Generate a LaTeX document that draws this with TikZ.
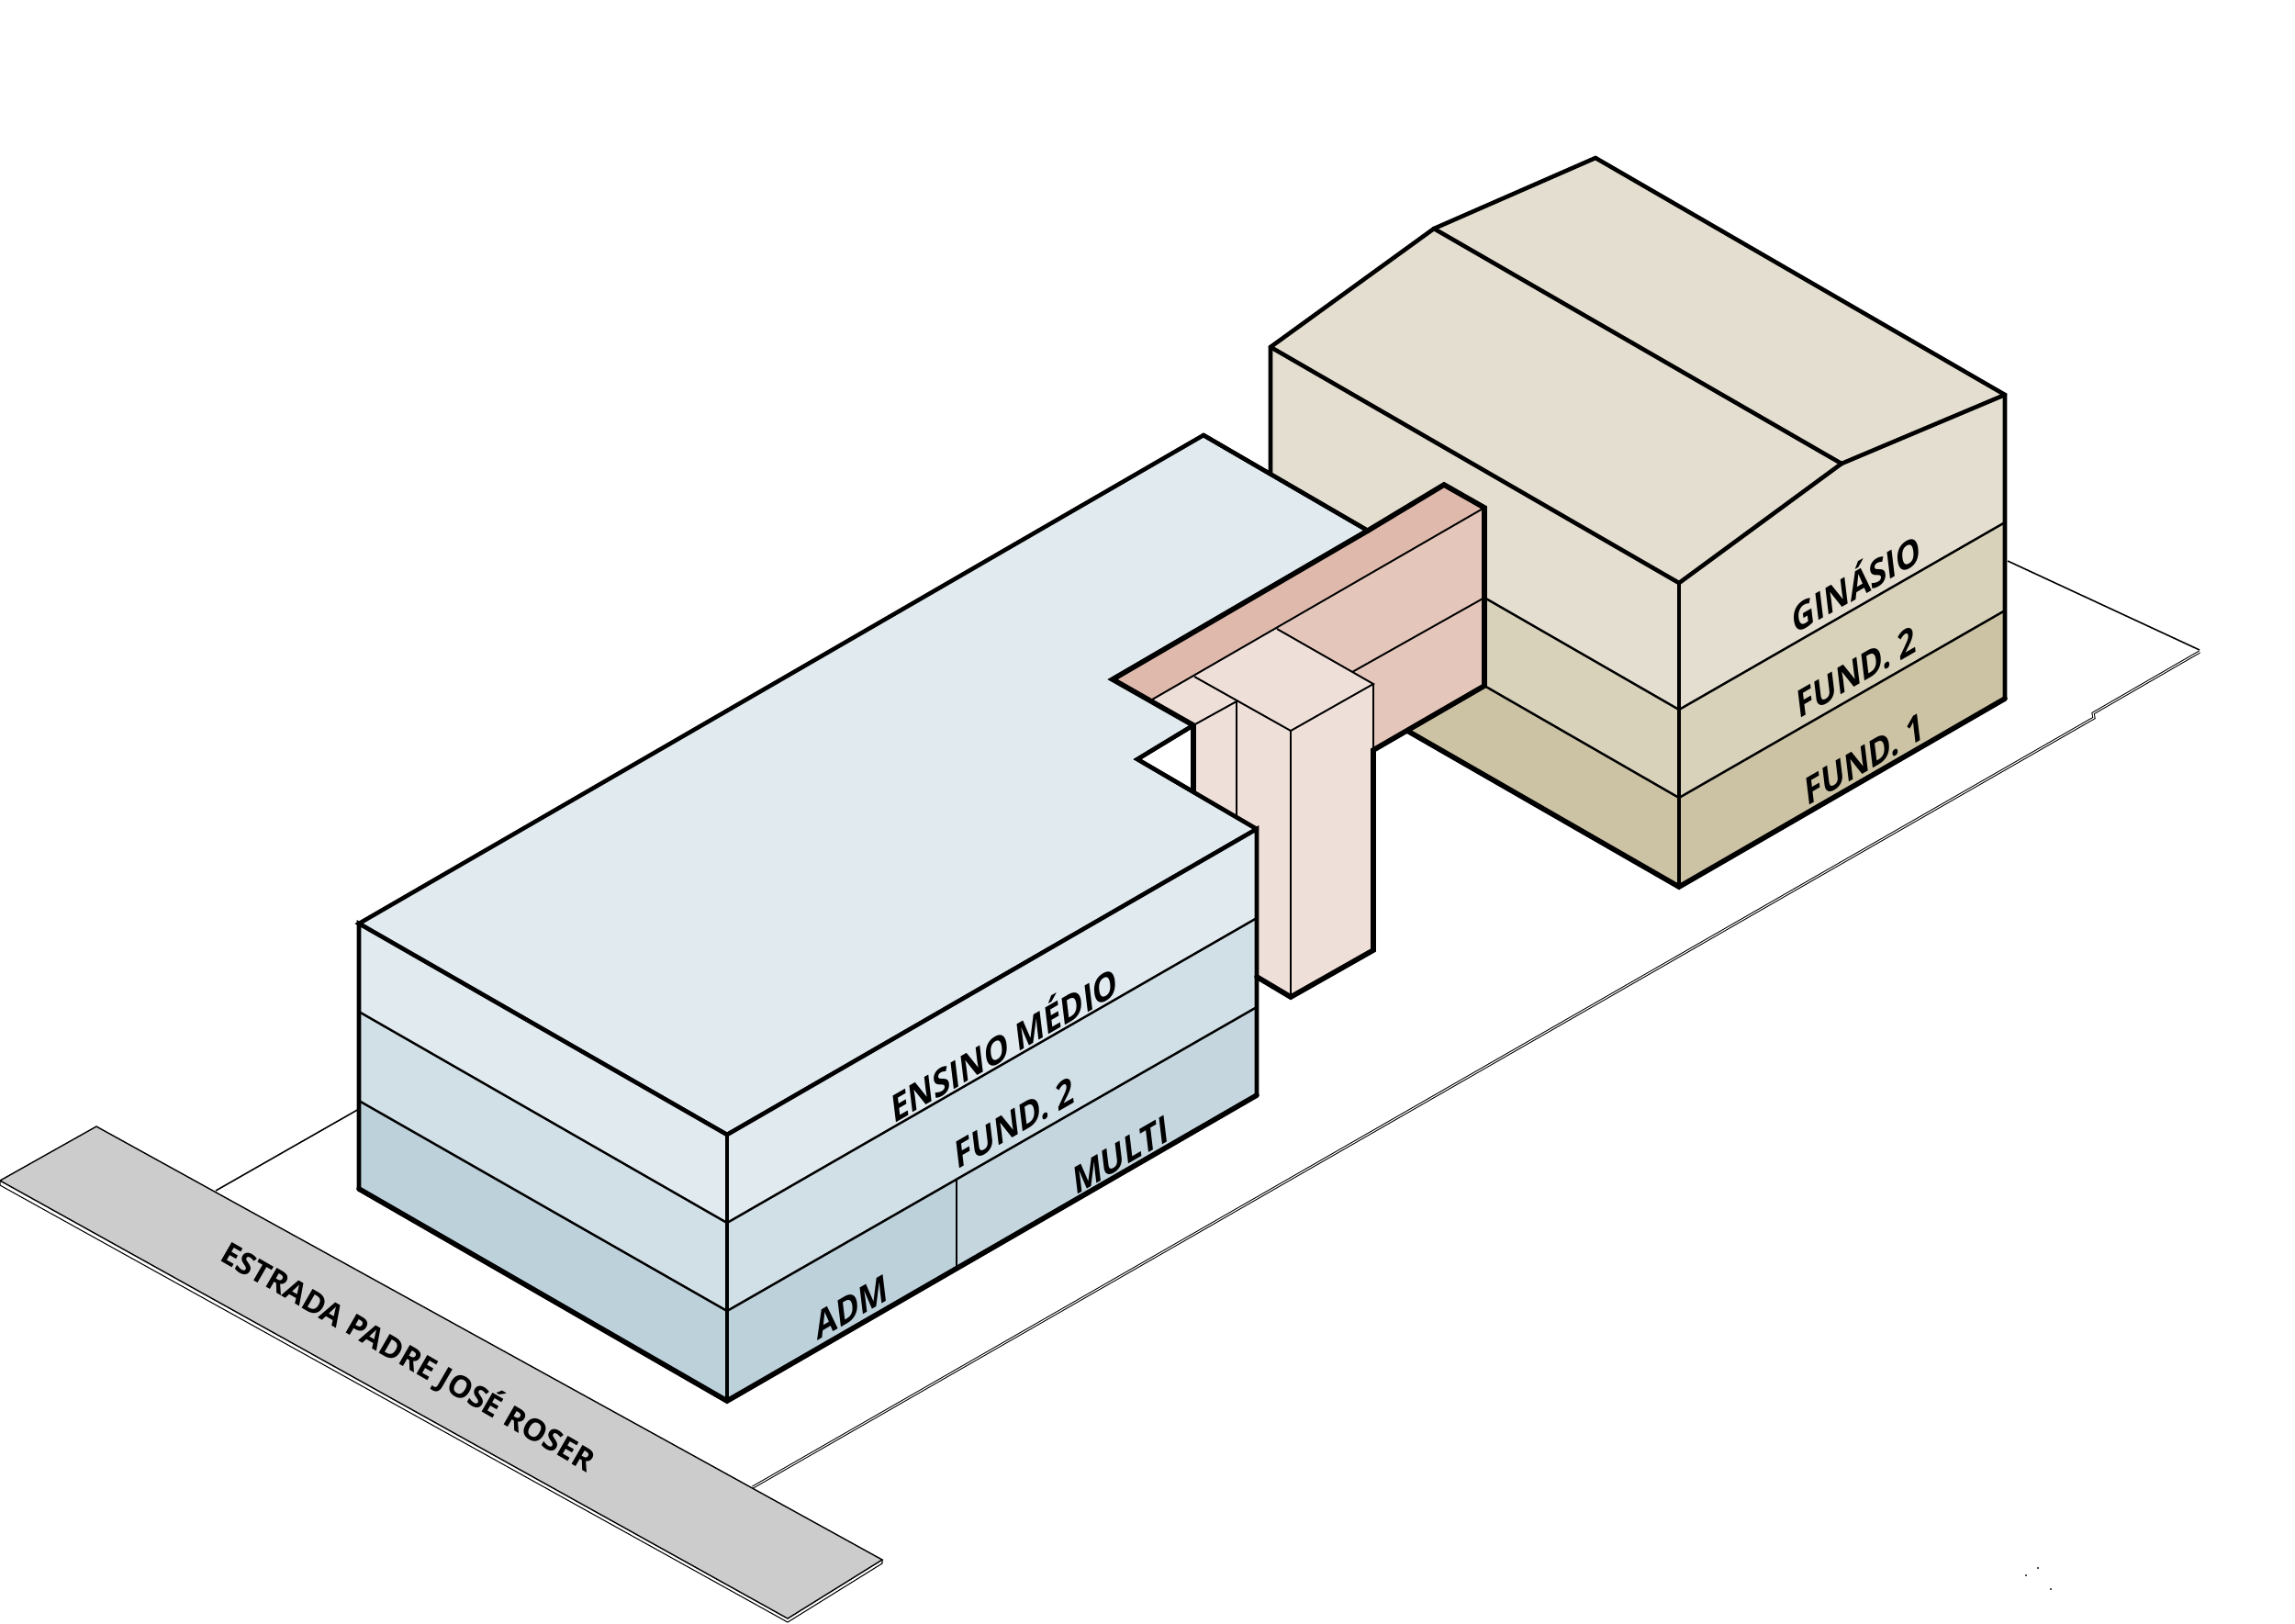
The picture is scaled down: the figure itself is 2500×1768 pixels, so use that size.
\documentclass[tikz,border=0pt]{standalone}
\usepackage{fontspec}
\setmainfont{Open Sans}
\definecolor{btop}{HTML}{E1EAEF}
\definecolor{bmid}{HTML}{D1DFE6}
\definecolor{blow}{HTML}{BDD1DB}
\definecolor{bmul}{HTML}{C5D6DF}
\definecolor{gtop}{HTML}{E3DECF}
\definecolor{gmid}{HTML}{D8D2BB}
\definecolor{glow}{HTML}{CCC3A5}
\definecolor{ppale}{HTML}{EFDFD9}
\definecolor{pmid}{HTML}{E4C6BB}
\definecolor{pdark}{HTML}{DFBAAC}
\definecolor{road}{HTML}{CCCCCC}
\tikzset{
  heavy/.style={draw=black,line width=1.3pt,line join=miter,line cap=round},
  heavier/.style={draw=black,line width=1.6pt,line join=miter,line cap=round},
  fine/.style={draw=black,line width=0.55pt},
  hair/.style={draw=black,line width=0.35pt},
  wall/.style={font=\bfseries\fontsize{11.5}{12}\selectfont,inner sep=0pt,cm={0.81,0.467,-0.12,1,(0,0)},transform shape},
  ground/.style={font=\bfseries\fontsize{9.45}{12}\selectfont,inner sep=0pt,rotate=-30},
}
\begin{document}
\begin{tikzpicture}[x=0.01cm,y=-0.01cm]
\useasboundingbox (0,0) rectangle (2500,1768);
% site
\draw[hair,line width=0.45pt] (235,1297) -- (391,1208);
\draw[hair,line width=0.45pt] (2187,611) -- (2396,708);
\draw[draw=black,line width=0.3pt,double=white,double distance=0.3pt] (820,1620) -- (2281,782) -- (2280,777) -- (2396,710);
% road
\filldraw[fill=white,draw=black,line width=0.3pt] (0,1286) -- (0,1291) -- (858,1767) -- (961,1703) -- (961,1699) -- cycle;
\filldraw[fill=road,draw=black,line width=0.4pt] (105,1227) -- (961,1699) -- (858,1763) -- (0,1286) -- cycle;
% gym
\fill[gtop] (1384,378) -- (1562,249) -- (1738,172) -- (2184,430) -- (2184,569) -- (1829,773) -- (1384,516) -- cycle;
\fill[gmid] (1617,651) -- (1829,773) -- (2184,569) -- (2184,665) -- (1829,869) -- (1617,747) -- cycle;
\fill[glow] (1533,796) -- (1617,747) -- (1829,869) -- (2184,665) -- (2184,761) -- (1829,966) -- cycle;
\draw[fine,line width=0.7pt] (1617,651) -- (1829,773) -- (2184,569);
\draw[fine,line width=0.7pt] (1617,747) -- (1829,869) -- (2184,665);
\draw[heavy] (1384,516) -- (1384,378) -- (1562,249) -- (1738,172) -- (2184,430) -- (2184,761);
\draw[heavier] (2184,761) -- (1829,966) -- (1533,796);
\draw[heavy] (1562,249) -- (2006,505) -- (2184,430);
\draw[heavy] (1384,378) -- (1829,635) -- (2006,505);
\draw[heavy] (1829,635) -- (1829,966);
% blue block
\filldraw[fill=btop,heavy] (391,1006) -- (1311,474) -- (1490,578) -- (1212,740) -- (1300,790) -- (1239,827) -- (1369,903) -- (792,1236) -- cycle;
\fill[btop] (391,1006) -- (792,1236) -- (1369,903) -- (1369,1000) -- (792,1332) -- (391,1102) -- cycle;
\fill[bmid] (391,1102) -- (792,1332) -- (1369,1000) -- (1369,1097) -- (792,1428) -- (391,1199) -- cycle;
\fill[blow] (391,1199) -- (792,1428) -- (1042,1285) -- (1042,1380) -- (792,1526) -- (391,1295) -- cycle;
\fill[bmul] (1042,1285) -- (1369,1097) -- (1369,1193) -- (1042,1380) -- cycle;
\draw[fine,line width=0.7pt] (391,1102) -- (792,1332) -- (1369,1000);
\draw[fine,line width=0.7pt] (391,1199) -- (792,1428) -- (1369,1097);
\draw[fine,line width=0.7pt] (1042,1285) -- (1042,1380);
% pink link
\fill[ppale] (1300,790) -- (1255,762) -- (1391,685) -- (1496,745) -- (1496,1035) -- (1406,1086) -- (1369,1064) -- (1369,903) -- (1300,862) -- cycle;
\fill[pmid] (1617,553) -- (1617,747) -- (1496,817) -- (1496,745) -- (1391,685) -- cycle;
\fill[pdark] (1212,740) -- (1573,528) -- (1617,553) -- (1255,762) -- cycle;
\draw[fine] (1617,553) -- (1255,762);
\draw[fine] (1617,651) -- (1473,732);
\draw[fine] (1391,685) -- (1496,745) -- (1406,796) -- (1301,737);
\draw[fine] (1300,790) -- (1347,764) -- (1347,888);
\draw[fine] (1406,796) -- (1406,1086);
\draw[fine] (1496,745) -- (1496,817);
\draw[heavier] (1490,578) -- (1573,528) -- (1617,553) -- (1617,747) -- (1496,817) -- (1496,1035) -- (1406,1086) -- (1369,1064);
\draw[heavier] (1490,578) -- (1212,740) -- (1300,790) -- (1300,862);
\draw[heavy] (1300,790) -- (1239,827) -- (1369,903);
% blue outline on top
\draw[heavy] (1311,474) -- (1490,578);
\draw[heavy] (391,1295) -- (391,1006) -- (792,1236) -- (1369,903) -- (1369,1193);
\draw[heavier] (391,1295) -- (792,1526) -- (1369,1193);
\draw[heavy] (792,1236) -- (792,1526);
% labels
\node[wall] (ensino) at (1094,1135) {ENSINO MÉDIO};
\node[wall] (fundb) at (1105,1223) {FUND. 2};
\node[wall] (multi) at (1221,1258) {MULTI};
\node[wall] (adm) at (928,1424) {ADM};
\node[wall] (gin) at (2022,633) {GINÁSIO};
\node[wall] (fundg) at (2022,732) {FUND. 2};
\node[wall] (fundo) at (2031,827) {FUND. 1};
\node[ground] (estrada) at (445,1478) {ESTRADA PADRE JOSÉ ROSER};
% specks
\fill[black!70] (2219,1707) rectangle (2221,1709);
\fill[black!70] (2206,1714.5) rectangle (2208,1716.5);
\fill[black!70] (2233,1730) rectangle (2235,1732);
\end{tikzpicture}
\end{document}
